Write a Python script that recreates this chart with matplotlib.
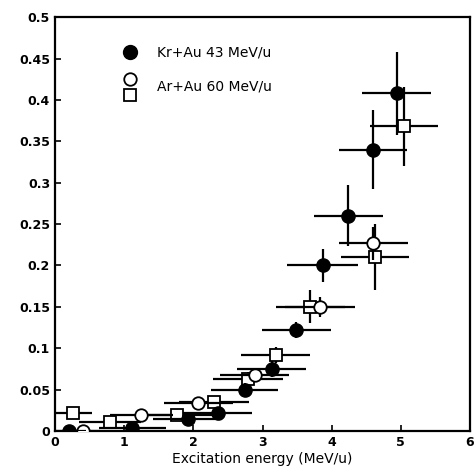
import matplotlib
matplotlib.use("Agg")
import matplotlib.pyplot as plt

# Kr+Au 43 MeV/u (filled circles)
kr_x = [0.2, 1.12, 1.92, 2.35, 2.74, 3.13, 3.49, 3.87, 4.24, 4.6, 4.94]
kr_y = [0.0, 0.004, 0.015, 0.022, 0.05, 0.075, 0.122, 0.2, 0.26, 0.34, 0.408]
kr_xerr = [0.25, 0.48, 0.5, 0.5, 0.49, 0.5, 0.5, 0.51, 0.5, 0.49, 0.5]
kr_yerr = [0.003, 0.004, 0.005, 0.006, 0.008, 0.01, 0.01, 0.02, 0.037, 0.048, 0.05]

# Ar+Au 60 MeV/u (open circles)
arc_x = [0.4, 1.25, 2.07, 2.89, 3.83, 4.6]
arc_y = [0.0, 0.019, 0.034, 0.068, 0.15, 0.227]
arc_xerr = [0.25, 0.45, 0.5, 0.5, 0.5, 0.5]
arc_yerr = [0.003, 0.004, 0.005, 0.008, 0.012, 0.02]

# Ar+Au 60 MeV/u (open squares)
ars_x = [0.26, 0.8, 1.77, 2.3, 2.79, 3.19, 3.69, 4.63, 5.04]
ars_y = [0.022, 0.011, 0.019, 0.035, 0.063, 0.092, 0.15, 0.21, 0.368]
ars_xerr = [0.27, 0.45, 0.5, 0.5, 0.5, 0.5, 0.5, 0.49, 0.49]
ars_yerr = [0.004, 0.004, 0.005, 0.006, 0.008, 0.01, 0.02, 0.04, 0.048]

x_ticks = [0, 1, 2, 3, 4, 5, 6]
y_ticks = [0, 0.05, 0.1, 0.15, 0.2, 0.25, 0.3, 0.35, 0.4, 0.45, 0.5]
y_ticklabels = ["0", "0.05", "0.1", "0.15", "0.2", "0.25", "0.3", "0.35", "0.4", "0.45", "0.5"]

plt.rcParams['font.family'] = ['DejaVu Sans']
plt.rcParams['font.weight'] = 'bold'

fig = plt.figure(figsize=(4.76, 4.76), dpi=100)
ax = fig.add_axes([0.1155, 0.0945, 0.872, 0.8695])

eb_kw = dict(ecolor='black', elinewidth=1.6, capsize=0, linestyle='none')
ax.errorbar(ars_x, ars_y, xerr=ars_xerr, yerr=ars_yerr, marker='s', ms=8.5,
            mfc='white', mec='black', mew=1.3, zorder=3, **eb_kw)
ax.errorbar(arc_x, arc_y, xerr=arc_xerr, yerr=arc_yerr, marker='o', ms=9,
            mfc='white', mec='black', mew=1.3, zorder=4, **eb_kw)
ax.errorbar(kr_x, kr_y, xerr=kr_xerr, yerr=kr_yerr, marker='o', ms=9.5,
            mfc='black', mec='black', zorder=5, **eb_kw)

# legend drawn in axes coordinates
ax.plot([0.181], [0.915], marker='o', ms=10, color='black', transform=ax.transAxes, clip_on=False)
ax.text(0.246, 0.915, "Kr+Au 43 MeV/u", transform=ax.transAxes, fontsize=10,
        va='center', ha='left', fontweight='normal')
ax.plot([0.181], [0.85], marker='o', ms=9, mfc='white', mec='black', mew=1.3,
        transform=ax.transAxes, clip_on=False)
ax.plot([0.181], [0.812], marker='s', ms=8.5, mfc='white', mec='black', mew=1.3,
        transform=ax.transAxes, clip_on=False)
ax.text(0.246, 0.832, "Ar+Au 60 MeV/u", transform=ax.transAxes, fontsize=10,
        va='center', ha='left', fontweight='normal')

ax.set_xlim(0, 6)
ax.set_ylim(0, 0.5)
ax.set_xticks(x_ticks)
ax.set_xticklabels([str(t) for t in x_ticks])
ax.set_yticks(y_ticks)
ax.set_yticklabels(y_ticklabels)
ax.tick_params(direction='in', length=4, width=1.2, labelsize=9)
for s in ax.spines.values():
    s.set_linewidth(1.6)
ax.set_xlabel("Excitation energy (MeV/u)", fontsize=10, fontweight='normal', labelpad=2)

fig.savefig("out.png", dpi=100)
